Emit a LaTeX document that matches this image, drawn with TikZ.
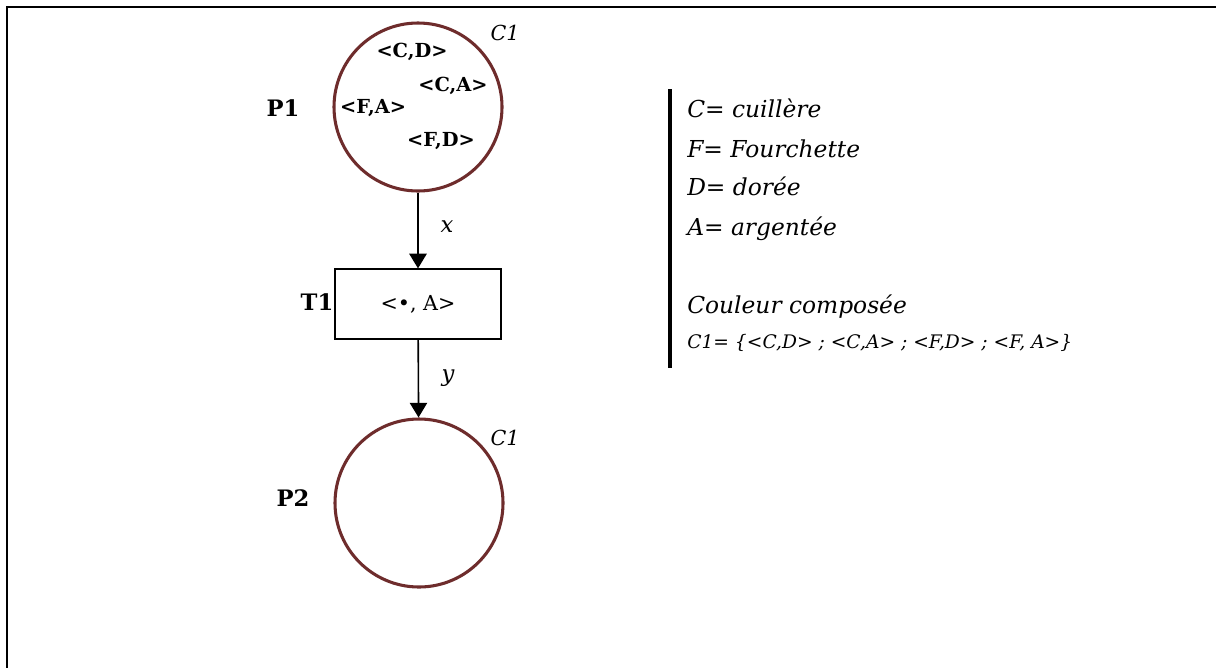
\documentclass[tikz,border=0pt]{standalone}
\usepackage{fontspec}
\setmainfont{DejaVu Serif}
\usetikzlibrary{arrows.meta, positioning}
\usepackage{xcolor}
\definecolor{PlaceBrown}{HTML}{6E2C2C}
\definecolor{InkBlack}{HTML}{000000}
\definecolor{PaperWhite}{HTML}{FFFFFF}
\tikzset{
    % Petri net shapes
    place/.style={
        circle,
        draw=PlaceBrown,
        fill=PaperWhite,
        line width=2.3pt,
        minimum size=126pt,
        inner sep=0pt
    },
    transition/.style={
        rectangle,
        draw=InkBlack,
        line width=1.4pt,
        minimum width=125pt,
        minimum height=52pt,
        font=\fontsize{15.5}{18}\selectfont
    },
    % Labels
    netname/.style={
        inner sep=0pt,
        font=\fontsize{17}{20}\selectfont\bfseries
    },
    token/.style={
        inner sep=0pt,
        font=\fontsize{14.5}{17}\selectfont\bfseries
    },
    colourset/.style={
        inner sep=0pt,
        font=\fontsize{15.5}{18}\selectfont\itshape
    },
    arclabel/.style={
        inner sep=0pt,
        font=\fontsize{17}{20}\selectfont\itshape
    },
    legend/.style={
        anchor=base west,
        inner sep=0pt,
        font=\fontsize{17.5}{20}\selectfont\itshape
    },
    % Arc style
    arc/.style={
        -{Triangle[width=13pt,length=11pt]},
        line width=1.2pt,
        draw=InkBlack
    }
}

\begin{document}
\begin{tikzpicture}[x=0.75pt, y=-0.75pt]
    \useasboundingbox (0,0) rectangle (1216,668);

    % page frame
    \draw[line width=2pt] (1216,7) -- (7,7) -- (7,668);

    % places and transition
    \node[place] (p1) at (418,107) {};
    \node[transition] (t1) at (418,304) {<•, A>};
    \node[place] (p2) at (419,503) {};

    \node[netname] (p1name) at (283,108) {P1};
    \node[netname] (t1name) at (317,302) {T1};
    \node[netname] (p2name) at (293,498) {P2};

    \node[colourset] (p1col) at (505,33) {C1};
    \node[colourset] (p2col) at (505,438) {C1};

    % marking of P1
    \node[token] (tcd) at (412,52) {<C,D>};
    \node[token] (tca) at (453,86) {<C,A>};
    \node[token] (tfa) at (373,108) {<F,A>};
    \node[token] (tfd) at (441,141) {<F,D>};

    % arcs
    \draw[arc] (p1) -- (t1);
    \draw[arc] (t1) -- (p2);
    \node[arclabel] (xlbl) at (447,227) {x};
    \node[arclabel] (ylbl) at (448,378) {y};

    % legend
    \draw[line width=3pt] (670,89) -- (670,368);
    \node[legend] (lc) at (687,117) {C= cuillère};
    \node[legend] (lf) at (687,157) {F= Fourchette};
    \node[legend] (ld) at (687,195) {D= dorée};
    \node[legend] (la) at (687,235) {A= argentée};
    \node[legend] (lcc) at (687,313) {Couleur composée};
    \node[legend, font=\fontsize{14}{16}\selectfont\itshape] (lset) at (687,348)
        {C1= \{<C,D> ; <C,A> ; <F,D> ; <F, A>\}};
\end{tikzpicture}
\end{document}
